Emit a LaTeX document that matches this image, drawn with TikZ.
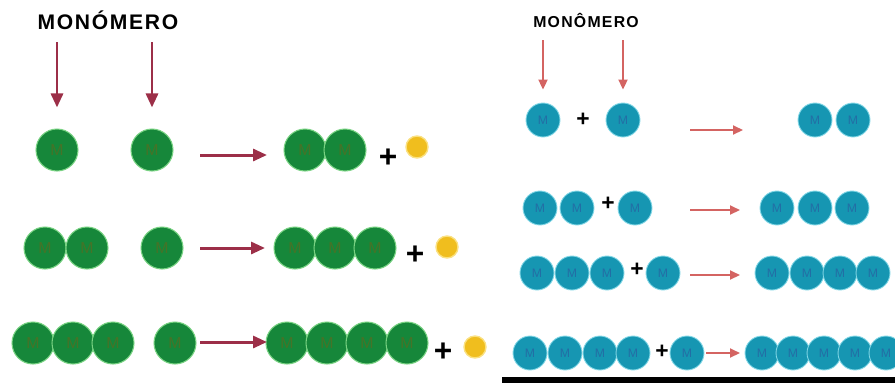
\documentclass[tikz,border=0pt]{standalone}
\usepackage{fontspec}
\setmainfont{Liberation Sans}
\newfontfamily\lblfont[LetterSpace=8]{Liberation Sans}
\usetikzlibrary{arrows.meta,positioning}
\definecolor{gfill}{RGB}{22,135,58}
\definecolor{gedge}{RGB}{120,210,130}
\definecolor{gtext}{RGB}{70,115,40}
\definecolor{tfill}{RGB}{22,150,178}
\definecolor{tedge}{RGB}{130,215,230}
\definecolor{ttext}{RGB}{35,110,165}
\definecolor{yfill}{RGB}{240,190,30}
\definecolor{yedge}{RGB}{250,225,130}
\definecolor{lred}{RGB}{156,47,72}
\definecolor{rred}{RGB}{212,100,98}

\begin{document}
\begin{tikzpicture}[
  x=0.02cm,y=-0.02cm,
  gm/.style={circle,inner sep=0pt,minimum size=8.4mm,fill=gfill,draw=gedge,line width=0.6pt,text=gtext,font=\fontsize{9}{9}\selectfont},
  tm/.style={circle,inner sep=0pt,minimum size=6.8mm,fill=tfill,draw=tedge,line width=0.5pt,text=ttext,font=\fontsize{7}{7}\selectfont},
  bead/.style={circle,inner sep=0pt,minimum size=4.4mm,fill=yfill,draw=yedge,line width=0.8pt},
  plusl/.style={inner sep=0pt,font=\fontsize{18}{18}\selectfont\bfseries},
  pluss/.style={inner sep=0pt,font=\fontsize{13}{13}\selectfont\bfseries},
  larr/.style={-{Triangle[length=2.8mm,width=2.4mm]},line width=1.7pt,draw=lred},
  rarr/.style={-{Triangle[length=2mm,width=1.8mm]},line width=1.1pt,draw=rred},
]
\useasboundingbox (0,0) rectangle (895,383);

\node[anchor=south,inner sep=0pt,font=\lblfont\fontsize{12}{12}\selectfont\bfseries] (lbl) at (108,30) {MONÓMERO};

\node[gm] (a1) at (57,150) {M};
\node[gm] (a2) at (152,150) {M};
\coordinate (as1) at (200,155);
\coordinate (ae1) at (267,155);
\node[gm] (p1) at (305,150) {M};
\node[gm] (p2) at (345,150) {M};
\node[plusl] (ap1) at (388,158) {+};
\node[bead] (y1) at (417,147) {};

\node[gm] (b1) at (45,248) {M};
\node[gm] (b2) at (87,248) {M};
\node[gm] (b3) at (162,248) {M};
\coordinate (as2) at (200,248);
\coordinate (ae2) at (265,248);
\node[gm] (p3) at (295,248) {M};
\node[gm] (p4) at (335,248) {M};
\node[gm] (p5) at (375,248) {M};
\node[plusl] (ap2) at (415,255) {+};
\node[bead] (y2) at (447,247) {};

\node[gm] (c1) at (33,343) {M};
\node[gm] (c2) at (73,343) {M};
\node[gm] (c3) at (113,343) {M};
\node[gm] (c4) at (175,343) {M};
\coordinate (as3) at (200,342);
\coordinate (ae3) at (267,342);
\node[gm] (p6) at (287,343) {M};
\node[gm] (p7) at (327,343) {M};
\node[gm] (p8) at (367,343) {M};
\node[gm] (p9) at (407,343) {M};
\node[plusl] (ap3) at (443,352) {+};
\node[bead] (y3) at (475,347) {};

\draw[larr,shorten <=2.4mm,shorten >=4.2mm] (lbl.south -| a1) -- (a1);
\draw[larr,shorten <=2.4mm,shorten >=4.2mm] (lbl.south -| a2) -- (a2);
\draw[larr] (as1) -- (ae1);
\draw[larr] (as2) -- (ae2);
\draw[larr] (as3) -- (ae3);

\node[anchor=south,inner sep=0pt,font=\lblfont\fontsize{9}{9}\selectfont\bfseries] (rlbl) at (586,28) {MONÔMERO};

\node[tm] (d1) at (543,120) {M};
\node[pluss] (dp1) at (583,120) {+};
\node[tm] (d2) at (623,120) {M};
\coordinate (ds1) at (690,130);
\coordinate (de1) at (743,130);
\node[tm] (q1) at (815,120) {M};
\node[tm] (q2) at (853,120) {M};

\node[tm] (e1) at (540,208) {M};
\node[tm] (e2) at (577,208) {M};
\node[pluss] (ep1) at (608,204) {+};
\node[tm] (e3) at (635,208) {M};
\coordinate (ds2) at (690,210);
\coordinate (de2) at (740,210);
\node[tm] (q3) at (777,208) {M};
\node[tm] (q4) at (815,208) {M};
\node[tm] (q5) at (852,208) {M};

\node[tm] (f1) at (537,273) {M};
\node[tm] (f2) at (572,273) {M};
\node[tm] (f3) at (607,273) {M};
\node[pluss] (fp1) at (637,270) {+};
\node[tm] (f4) at (663,273) {M};
\coordinate (ds3) at (690,275);
\coordinate (de3) at (740,275);
\node[tm] (q6) at (772,273) {M};
\node[tm] (q7) at (807,273) {M};
\node[tm] (q8) at (840,273) {M};
\node[tm] (q9) at (873,273) {M};

\node[tm] (g1) at (530,353) {M};
\node[tm] (g2) at (565,353) {M};
\node[tm] (g3) at (600,353) {M};
\node[tm] (g4) at (633,353) {M};
\node[pluss] (gp1) at (662,352) {+};
\node[tm] (g5) at (687,353) {M};
\coordinate (ds4) at (706,353);
\coordinate (de4) at (740,353);
\node[tm] (q10) at (762,353) {M};
\node[tm] (q11) at (793,353) {M};
\node[tm] (q12) at (824,353) {M};
\node[tm] (q13) at (855,353) {M};
\node[tm] (q14) at (886,353) {M};

\draw[rarr,shorten <=2.4mm,shorten >=2.6mm] (rlbl.south -| d1) -- (d1);
\draw[rarr,shorten <=2.4mm,shorten >=2.6mm] (rlbl.south -| d2) -- (d2);
\draw[rarr] (ds1) -- (de1);
\draw[rarr] (ds2) -- (de2);
\draw[rarr] (ds3) -- (de3);
\draw[rarr] (ds4) -- (de4);

\fill[black] (502,377) rectangle (895,383);
\end{tikzpicture}
\end{document}
